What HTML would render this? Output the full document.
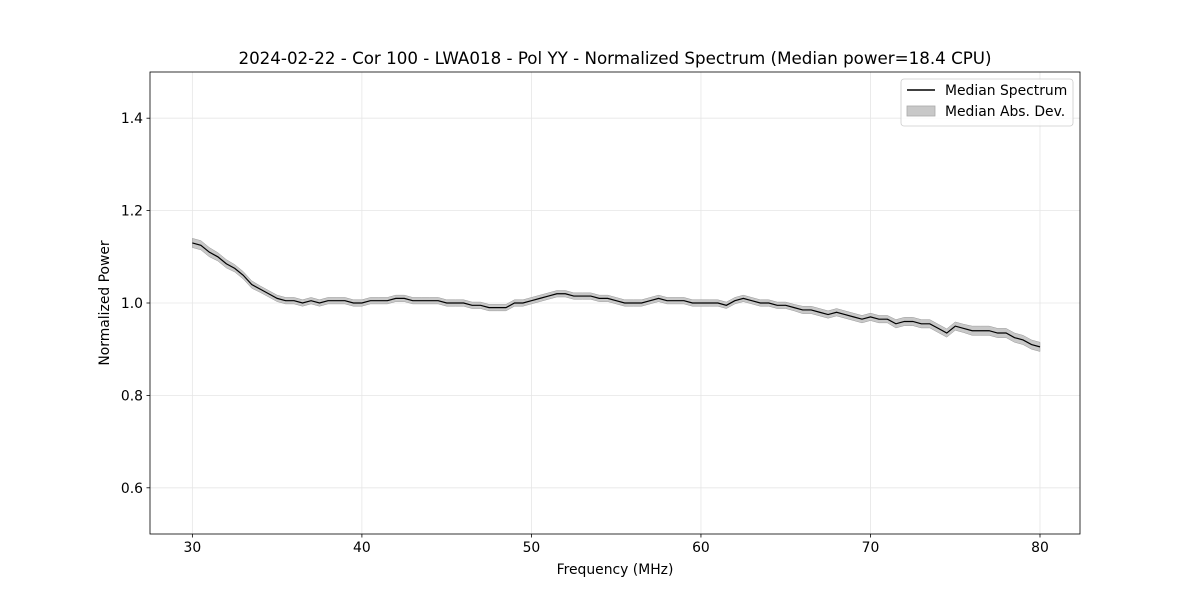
<!DOCTYPE html>
<html><head><meta charset="utf-8"><style>
body{margin:0;background:#fff;font-family:"Liberation Sans","DejaVu Sans",sans-serif}
svg text{font-family:"DejaVu Sans","Liberation Sans",sans-serif}
</style></head><body>
<svg id="chart" width="1200" height="600">
<rect width="1200" height="600" fill="#fff"/>
<g id="grid"></g><g id="band"></g><g id="line"></g><g id="axes"></g>
</svg>
<script>
const freqs=[30,30.5,31,31.5,32,32.5,33,33.5,34,34.5,35,35.5,36,36.5,37,37.5,38,38.5,39,39.5,40,40.5,41,41.5,42,42.5,43,43.5,44,44.5,45,45.5,46,46.5,47,47.5,48,48.5,49,49.5,50,50.5,51,51.5,52,52.5,53,53.5,54,54.5,55,55.5,56,56.5,57,57.5,58,58.5,59,59.5,60,60.5,61,61.5,62,62.5,63,63.5,64,64.5,65,65.5,66,66.5,67,67.5,68,68.5,69,69.5,70,70.5,71,71.5,72,72.5,73,73.5,74,74.5,75,75.5,76,76.5,77,77.5,78,78.5,79,79.5,80];
const median=[1.13,1.125,1.11,1.10,1.085,1.075,1.06,1.04,1.03,1.02,1.01,1.005,1.005,1.0,1.005,1.0,1.005,1.005,1.005,1.0,1.0,1.005,1.005,1.005,1.01,1.01,1.005,1.005,1.005,1.005,1.0,1.0,1.0,0.995,0.995,0.99,0.99,0.99,1.0,1.0,1.005,1.01,1.015,1.02,1.02,1.015,1.015,1.015,1.01,1.01,1.005,1.0,1.0,1.0,1.005,1.01,1.005,1.005,1.005,1.0,1.0,1.0,1.0,0.995,1.005,1.01,1.005,1.0,1.0,0.995,0.995,0.99,0.985,0.985,0.98,0.975,0.98,0.975,0.97,0.965,0.97,0.965,0.965,0.955,0.96,0.96,0.955,0.955,0.945,0.935,0.95,0.945,0.94,0.94,0.94,0.935,0.935,0.925,0.92,0.91,0.905];
const mad=[0.01,0.01,0.01,0.009,0.009,0.008,0.008,0.008,0.007,0.007,0.007,0.007,0.007,0.007,0.007,0.007,0.007,0.007,0.007,0.007,0.007,0.007,0.007,0.007,0.007,0.007,0.007,0.007,0.007,0.007,0.007,0.007,0.007,0.007,0.007,0.007,0.007,0.007,0.007,0.007,0.007,0.007,0.007,0.007,0.007,0.007,0.007,0.007,0.007,0.007,0.007,0.007,0.007,0.007,0.007,0.007,0.007,0.007,0.007,0.007,0.007,0.007,0.007,0.007,0.007,0.007,0.007,0.007,0.007,0.007,0.007,0.007,0.008,0.008,0.008,0.008,0.008,0.008,0.008,0.008,0.008,0.008,0.008,0.009,0.009,0.009,0.009,0.009,0.009,0.009,0.009,0.009,0.01,0.01,0.01,0.01,0.01,0.01,0.01,0.01,0.01];
const xTicks=[30,40,50,60,70,80];
const yTicks=[0.6,0.8,1.0,1.2,1.4];
const yTickLabels=["0.6","0.8","1.0","1.2","1.4"];
const L=150,R=1080,T=72,B=534,X0=27.5,X1=82.36,Y0=0.5,Y1=1.5;
const sx=v=>L+(v-X0)/(X1-X0)*(R-L), sy=v=>B-(v-Y0)/(Y1-Y0)*(B-T);
const NS="http://www.w3.org/2000/svg";
function mk(tag,attrs,parent,text){const e=document.createElementNS(NS,tag);for(const k in attrs)e.setAttribute(k,attrs[k]);if(text!==undefined)e.textContent=text;parent.appendChild(e);return e;}
const grid=document.getElementById('grid'),axes=document.getElementById('axes');
xTicks.forEach(t=>{
 const g=mk('line',{x1:sx(t),x2:sx(t),y1:T,y2:B,stroke:'#e6e6e6','stroke-width':0.8},grid);
 
 mk('line',{x1:sx(t),x2:sx(t),y1:B,y2:B+3.5,stroke:'#000','stroke-width':0.8},axes);
 const l=mk('text',{x:sx(t),y:B+18,'font-size':13.9,'text-anchor':'middle'},axes,String(t));
 
});
yTicks.forEach((t,i)=>{
 const g=mk('line',{x1:L,x2:R,y1:sy(t),y2:sy(t),stroke:'#e6e6e6','stroke-width':0.8},grid);
 
 mk('line',{x1:L-3.5,x2:L,y1:sy(t),y2:sy(t),stroke:'#000','stroke-width':0.8},axes);
 const l=mk('text',{x:L-7,y:sy(t)+5,'font-size':13.9,'text-anchor':'end'},axes,yTickLabels[i]);
 
});
let up=freqs.map((f,i)=>sx(f)+','+sy(median[i]+mad[i]));
let dn=freqs.map((f,i)=>sx(f)+','+sy(median[i]-mad[i])).reverse();
const band=mk('polygon',{points:up.concat(dn).join(' '),fill:'#c8c8c8',stroke:'#999','stroke-width':0.5},document.getElementById('band'));

const ln=mk('polyline',{points:freqs.map((f,i)=>sx(f)+','+sy(median[i])).join(' '),fill:'none',stroke:'#000','stroke-width':1.2},document.getElementById('line'));

const frame=mk('rect',{x:L,y:T,width:R-L,height:B-T,fill:'none',stroke:'#000','stroke-width':0.8},axes);

const title=mk('text',{x:615,y:64,'font-size':16.7,'text-anchor':'middle'},axes,'2024-02-22 - Cor 100 - LWA018 - Pol YY - Normalized Spectrum (Median power=18.4 CPU)');

const xl=mk('text',{x:615,y:574,'font-size':13.9,'text-anchor':'middle'},axes,'Frequency (MHz)');

const yl=mk('text',{x:109,y:303,'font-size':13.9,'text-anchor':'middle',transform:'rotate(-90 109 303)'},axes,'Normalized Power');

const lg=mk('g',{},axes);

mk('rect',{x:901,y:79,width:172,height:47,rx:3,fill:'#fff','fill-opacity':0.8,stroke:'#ccc','stroke-width':0.8},lg);
mk('line',{x1:907,x2:935,y1:90,y2:90,stroke:'#000','stroke-width':1.5},lg);
const t1=mk('text',{x:945,y:95,'font-size':13.9},lg,'Median Spectrum');

mk('rect',{x:907,y:106,width:28,height:10,fill:'#c8c8c8',stroke:'#aaa','stroke-width':0.8},lg);
const t2=mk('text',{x:945,y:116,'font-size':13.9},lg,'Median Abs. Dev.');

</script>
</body></html>
